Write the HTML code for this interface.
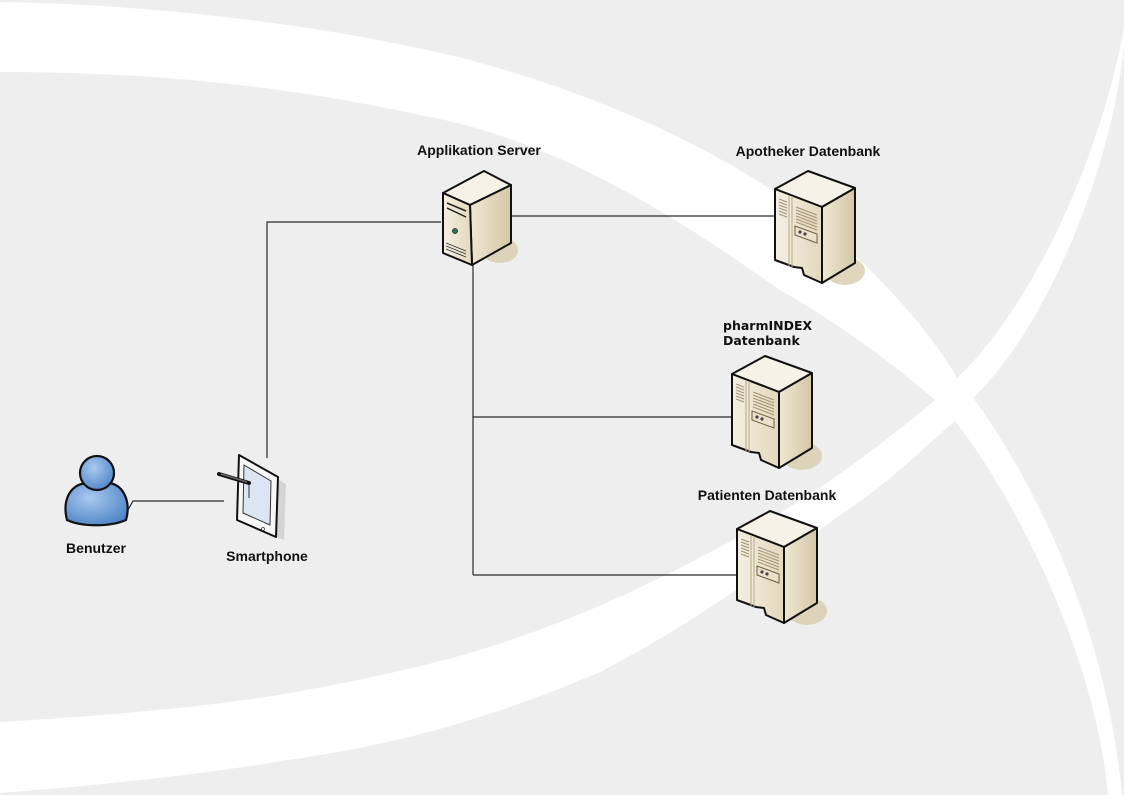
<!DOCTYPE html>
<html><head><meta charset="utf-8"><style>
html,body{margin:0;padding:0;background:#eeeeee;}
svg{display:block;}
text{font-family:"Liberation Sans",Arial,sans-serif;font-weight:bold;font-size:14px;fill:#111;}
</style></head><body>
<svg width="1124" height="795" viewBox="0 0 1124 795" xmlns="http://www.w3.org/2000/svg">
<defs>
<linearGradient id="rf" x1="0" y1="0" x2="1" y2="0"><stop offset="0" stop-color="#efe7d3"/><stop offset="1" stop-color="#d4c7a6"/></linearGradient>
<linearGradient id="ff" x1="0" y1="0" x2="1" y2="0"><stop offset="0" stop-color="#f4efe2"/><stop offset="1" stop-color="#e3d8bd"/></linearGradient>
<radialGradient id="pb" cx="0.4" cy="0.35" r="0.7"><stop offset="0" stop-color="#a9c8ef"/><stop offset="1" stop-color="#4f86c8"/></radialGradient>
<g id="db">
 <ellipse cx="70" cy="100" rx="20" ry="14" fill="#d8ccae" opacity="0.8"/>
 <polygon points="33,0 80,17 47,36 0,18" fill="#f6f2e8" stroke="#111" stroke-width="2" stroke-linejoin="round"/>
 <polygon points="47,36 80,17 80,92 47,112" fill="url(#rf)" stroke="#111" stroke-width="2" stroke-linejoin="round"/>
 <polygon points="0,18 47,36 47,112 29,104 27,97 19,96 0,89" fill="url(#ff)" stroke="#111" stroke-width="2" stroke-linejoin="round"/>
 <line x1="14" y1="24" x2="14" y2="95" stroke="#b9a985" stroke-width="1"/>
 <line x1="17" y1="25" x2="17" y2="96" stroke="#b9a985" stroke-width="1"/>
 <g stroke="#a39272" stroke-width="1">
  <line x1="4" y1="28" x2="12" y2="31"/><line x1="4" y1="31" x2="12" y2="34"/><line x1="4" y1="34" x2="12" y2="37"/><line x1="4" y1="37" x2="12" y2="40"/><line x1="4" y1="40" x2="12" y2="43"/><line x1="4" y1="43" x2="12" y2="46"/>
  <line x1="21" y1="36" x2="42" y2="44"/><line x1="21" y1="39" x2="42" y2="47"/><line x1="21" y1="42" x2="42" y2="50"/><line x1="21" y1="45" x2="42" y2="53"/><line x1="21" y1="48" x2="42" y2="56"/><line x1="21" y1="51" x2="42" y2="59"/>
 </g>
 <polygon points="20,55 42,63 42,72 20,64" fill="#eae1cb" stroke="#6e6048" stroke-width="1"/>
 <circle cx="25" cy="61" r="1.6" fill="#444"/><circle cx="30" cy="63" r="1.6" fill="#444"/>
</g>
</defs>
<rect width="1124" height="795" fill="#eeeeee"/>
<!-- band 1 -->
<path d="M0,2 C150,4 330,25 470,60 C600,95 720,150 800,210 C870,262 930,330 957,378 L973,398 C1020,460 1105,610 1122,795 L1108,795 C1095,650 1010,490 955,421 L935,400 C900,370 850,330 780,290 C680,220 560,140 420,115 C280,85 150,72 0,72 Z" fill="#ffffff"/>
<!-- band 2 -->
<path d="M0,722 C120,715 220,705 290,693 C390,675 450,660 502,643 C600,610 680,570 760,525 C830,485 900,430 935,400 L957,378 C1030,310 1100,160 1124,28 L1124,45 C1112,170 1045,330 973,398 L955,421 C920,450 900,475 840,515 C780,560 700,620 600,672 C500,715 400,745 287,760 C200,775 100,785 0,793 Z" fill="#ffffff"/>
<!-- connectors -->
<g stroke="#2a2a2a" stroke-width="1.2" fill="none">
 <polyline points="441,222 267,222 267,458"/>
 <line x1="512" y1="216" x2="776" y2="216"/>
 <line x1="473" y1="264" x2="473" y2="575"/>
 <line x1="473" y1="417" x2="732" y2="417"/>
 <line x1="473" y1="575" x2="737" y2="575"/>
 <polyline points="125,515 133,501 224,501"/>
</g>
<!-- app server -->
<g>
 <ellipse cx="500" cy="250" rx="18" ry="13" fill="#d8ccae" opacity="0.8"/>
 <polygon points="484,171 511,185 470,205 443,193" fill="#f6f2e8" stroke="#111" stroke-width="2" stroke-linejoin="round"/>
 <polygon points="470,205 511,185 511,243 472,265" fill="url(#rf)" stroke="#111" stroke-width="2" stroke-linejoin="round"/>
 <polygon points="443,193 470,205 472,265 443,253" fill="url(#ff)" stroke="#111" stroke-width="2" stroke-linejoin="round"/>
 <g stroke="#222" stroke-width="1.5"><line x1="447" y1="203" x2="466" y2="211"/><line x1="447" y1="208" x2="466" y2="217"/></g>
 <circle cx="455" cy="231" r="2.5" fill="#2d7a55" stroke="#222" stroke-width="0.8"/>
 <g stroke="#333" stroke-width="0.9"><line x1="446" y1="243" x2="466" y2="251"/><line x1="446" y1="246" x2="466" y2="254"/><line x1="446" y1="249" x2="466" y2="257"/></g>
</g>
<use href="#db" x="775" y="171"/>
<use href="#db" x="732" y="356"/>
<use href="#db" x="737" y="511"/>
<!-- person -->
<g stroke="#111" stroke-width="2.2">
 <path d="M67,520 C62,500 70,485 86,483 L110,483 C124,486 131,502 126,520 C110,527 82,527 67,520 Z" fill="url(#pb)"/>
 <circle cx="97" cy="473" r="17" fill="url(#pb)"/>
</g>
<!-- tablet -->
<g>
 <polygon points="244,462 286,484 284,540 244,524" fill="#c9c9c9" opacity="0.7"/>
 <polygon points="239,455 278,477 276,537 237,520" fill="#f7f7f7" stroke="#111" stroke-width="2" stroke-linejoin="round"/>
 <polygon points="244,465 271,481 270,525 243,513" fill="#dce5f4" stroke="#333" stroke-width="1"/>
 <circle cx="263" cy="529" r="1.5" fill="none" stroke="#333" stroke-width="0.8"/>
 <line x1="219" y1="474" x2="249" y2="483" stroke="#111" stroke-width="4" stroke-linecap="round"/>
 <line x1="221" y1="474" x2="247" y2="482" stroke="#666" stroke-width="1.5"/>
 <line x1="249" y1="485" x2="249" y2="498" stroke="#333" stroke-width="1"/>
</g>
<!-- labels -->
<text x="479" y="155" text-anchor="middle">Applikation Server</text>
<text x="808" y="156" text-anchor="middle">Apotheker Datenbank</text>
<text x="723" y="330" style="font-family:'DejaVu Sans',sans-serif;font-size:12.5px">pharmINDEX</text>
<text x="723" y="345" style="font-family:'DejaVu Sans',sans-serif;font-size:12.5px">Datenbank</text>
<text x="767" y="500" text-anchor="middle">Patienten Datenbank</text>
<text x="96" y="553" text-anchor="middle">Benutzer</text>
<text x="267" y="561" text-anchor="middle">Smartphone</text>
</svg>
</body></html>
